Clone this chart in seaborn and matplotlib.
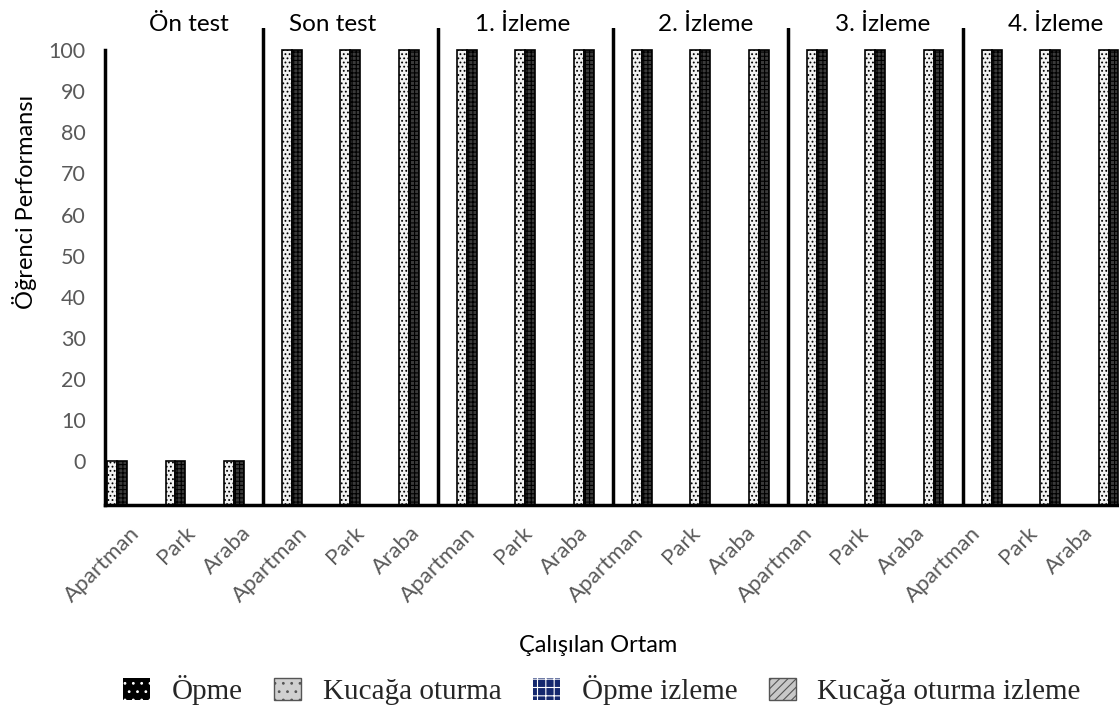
import numpy as np
import pandas as pd
import matplotlib
matplotlib.use("Agg")
import matplotlib.pyplot as plt
import matplotlib.transforms as mtransforms
from matplotlib.patches import Patch
import seaborn as sns

# ---- data ----
phases = ["Ön test", "Son test", "1. İzleme", "2. İzleme", "3. İzleme", "4. İzleme"]
settings = ["Apartman", "Park", "Araba"]
kucak_values = [0, 0, 0, 100, 100, 100, 100, 100, 100, 100, 100, 100, 100, 100, 100, 100, 100, 100]
opme_values = [0, 0, 0, 100, 100, 100, 100, 100, 100, 100, 100, 100, 100, 100, 100, 100, 100, 100]
legend_labels = ["Öpme", "Kucağa oturma", "Öpme izleme", "Kucağa oturma izleme"]
y_ticks = [0, 10, 20, 30, 40, 50, 60, 70, 80, 90, 100]

keys = [f"{p}|{s}" for p in phases for s in settings]
tick_labels = [s for p in phases for s in settings]
df = pd.DataFrame({
    "key": keys * 2,
    "value": kucak_values + opme_values,
    "series": ["Kucağa oturma"] * len(keys) + ["Öpme"] * len(keys),
})

sns.set_theme(style="white")
plt.rcParams["font.family"] = ["Lato", "DejaVu Sans"]
plt.rcParams["hatch.linewidth"] = 0.8

fig = plt.figure(figsize=(11.19, 7.15), dpi=100)
W, H = 1119, 715
ax = fig.add_axes([105 / W, 1 - 505 / H, (1119 - 105) / W, (505 - 28) / H])

sns.barplot(data=df, x="key", y="value", hue="series", order=keys,
            hue_order=["Kucağa oturma", "Öpme"],
            palette=["#f2f2f2", "#3a3a3a"], width=0.34, gap=0.0,
            edgecolor="black", linewidth=1.2, legend=False, ax=ax)

YMIN = -10.7
YMAX = 105.4
n = len(keys)
for i, p in enumerate(ax.patches[: 2 * n]):
    h = p.get_height()
    p.set_y(YMIN)
    p.set_height(h - YMIN)
    p.set_hatch("...." if i < n else "++++")

ax.set_xlim(-0.208, 17.18)
ax.set_ylim(YMIN, YMAX)

for s in ["top", "right"]:
    ax.spines[s].set_visible(False)
ax.spines["left"].set_color("black")
ax.spines["left"].set_linewidth(2.5)
ax.spines["left"].set_bounds(YMIN, 100)
ax.spines["bottom"].set_color("black")
ax.spines["bottom"].set_linewidth(2.5)

for b in [2.5, 5.5, 8.5, 11.5, 14.5]:
    ax.axvline(b, color="black", lw=2.5, zorder=5)

title_nudge_px = [13, -18, -3, 5, 7, 5]
for k, ph in enumerate(phases):
    tr = ax.get_xaxis_transform() + mtransforms.ScaledTranslation(
        title_nudge_px[k] / 100, 0, fig.dpi_scale_trans)
    ax.text(3 * k + 1, 1 - 3 / 477, ph, transform=tr,
            ha="center", va="baseline", fontsize=17.5, color="black")

ax.set_yticks(y_ticks)
ax.set_yticklabels([str(v) for v in y_ticks])
ax.tick_params(axis="y", length=0, pad=14, labelsize=15.5, labelcolor="#595959")
ax.set_xticks([])
ax.set_xlabel("")
ax.set_ylabel("")

# category axis for the labels (evenly spread over the axis width)
ax2 = ax.twiny()
ax2.set_xlim(-0.5, -0.5 + (1119 - 105) / 56.1)
for s in ax2.spines.values():
    s.set_visible(False)
ax2.xaxis.set_ticks_position("bottom")
ax2.set_xticks(range(n))
ax2.set_xticklabels(tick_labels, rotation=45, ha="right", va="center",
                    rotation_mode="anchor")
ax2.tick_params(axis="x", length=0, labelsize=16, labelcolor="#595959",
                top=False, labeltop=False, bottom=True, labelbottom=True)
offset = mtransforms.ScaledTranslation(0.03, -0.2, fig.dpi_scale_trans)
for lab in ax2.get_xticklabels():
    lab.set_transform(lab.get_transform() + offset)

fig.text(25 / W, 1 - 202 / H, "Öğrenci Performansı", rotation=90,
         ha="center", va="center", fontsize=17, color="black")
fig.text(598 / W, 1 - 645 / H, "Çalışılan Ortam", ha="center", va="center",
         fontsize=17, color="black")

handles = [
    Patch(facecolor="black", edgecolor="white", hatch="..", lw=0),
    Patch(facecolor="#d0d0d0", edgecolor="#555555", hatch="..", lw=1),
    Patch(facecolor="#14286e", edgecolor="white", hatch="++", lw=0),
    Patch(facecolor="#c8c8c8", edgecolor="#555555", hatch="////", lw=1),
]
fig.legend(handles, legend_labels, loc="center", bbox_to_anchor=(602 / W, 1 - 690 / H),
           ncol=4, frameon=False, prop={"family": "Liberation Serif", "size": 21},
           handlelength=0.9, handleheight=0.8, handletextpad=0.75, columnspacing=1.1,
           borderpad=0)

fig.savefig("out.png", dpi=100)
